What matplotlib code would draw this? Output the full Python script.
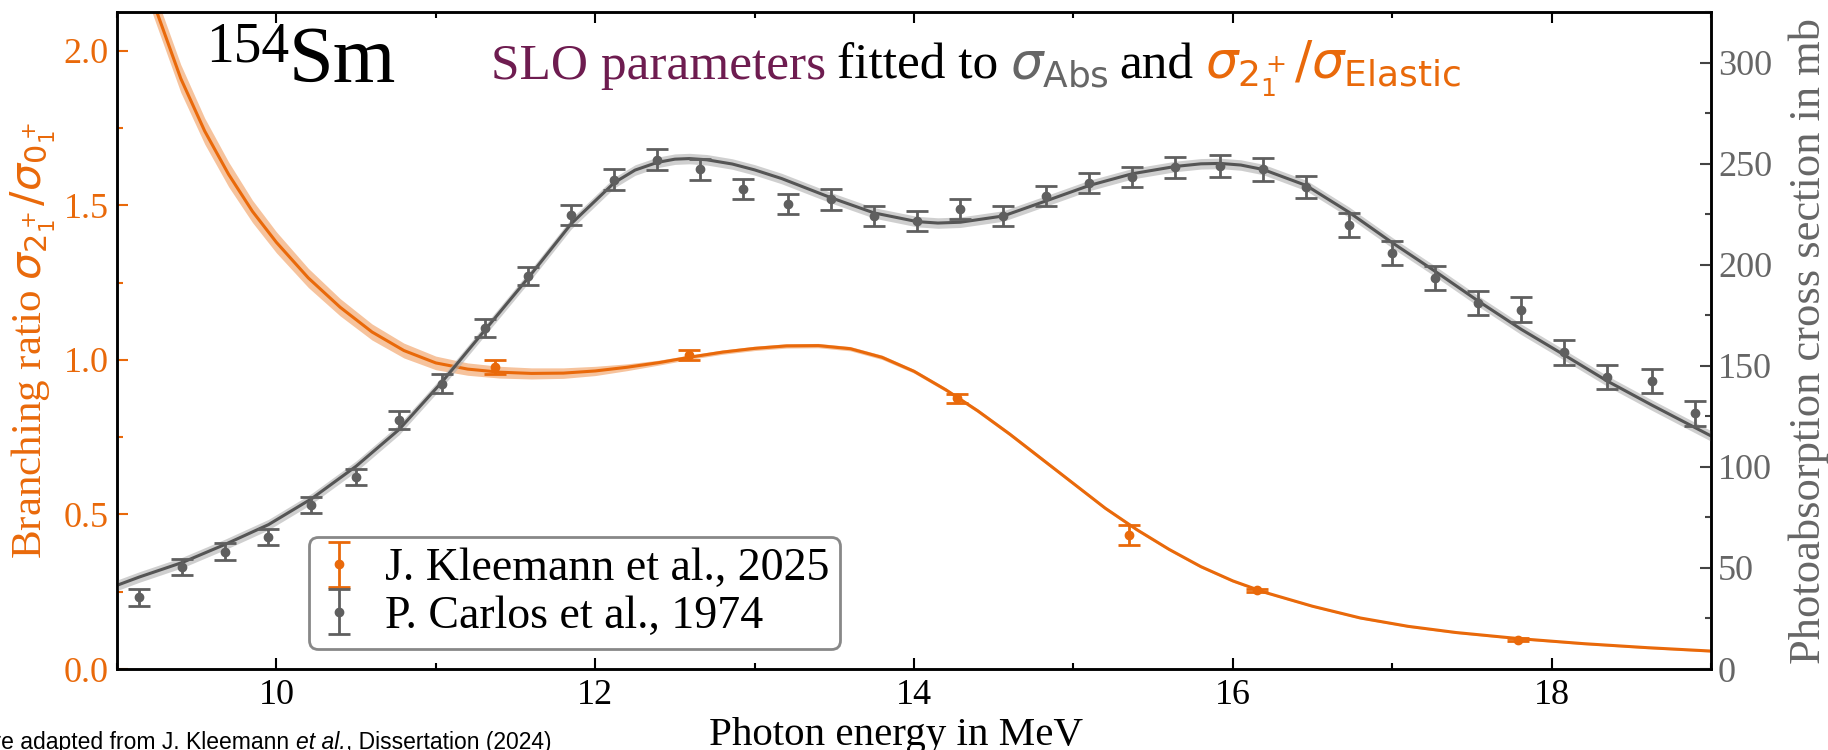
import matplotlib
matplotlib.use("Agg")
import matplotlib.pyplot as plt
from matplotlib.ticker import MultipleLocator
from matplotlib.offsetbox import TextArea, HPacker, AnnotationBbox

plt.rcParams['font.family'] = 'Liberation Serif'
plt.rcParams['mathtext.fontset'] = 'dejavusans'

ORANGE = '#e9690a'
GRAY = '#666666'
PURPLE = '#6e1c50'

# P. Carlos et al., 1974 photoabsorption cross section (mb)
carlos_E = [9.14, 9.41, 9.68, 9.95, 10.22, 10.50, 10.77, 11.04, 11.31, 11.58, 11.85, 12.12, 12.39,
            12.66, 12.93, 13.21, 13.48, 13.75, 14.02, 14.29, 14.56, 14.83, 15.10, 15.37, 15.64,
            15.92, 16.19, 16.46, 16.73, 17.00, 17.27, 17.54, 17.81, 18.08, 18.35, 18.63, 18.90]
carlos_sig = [35.4, 50.6, 58.1, 65.4, 81.2, 94.9, 123.0, 141.2, 168.6, 194.3, 224.6, 242.1, 252.0,
              247.1, 237.4, 229.9, 232.3, 224.1, 221.8, 227.6, 223.9, 233.8, 240.6, 243.2, 248.1,
              249.0, 247.1, 238.5, 219.6, 205.7, 193.3, 181.1, 177.8, 156.6, 144.4, 142.5, 126.4]
carlos_err = [4, 4, 4, 4, 4, 4, 4.5, 4.5, 4.5, 4.5, 5, 5, 5,
              5, 5, 5, 5, 5, 5, 5, 5, 5, 5, 5, 5,
              5.5, 5.5, 5.5, 6, 6, 6, 6, 6, 6, 6, 6, 6]

# J. Kleemann et al., 2025 branching ratio
klee_E = [11.37, 12.59, 14.27, 15.35, 16.15, 17.79]
klee_br = [0.977, 1.016, 0.876, 0.434, 0.254, 0.095]
klee_err = [0.022, 0.015, 0.015, 0.032, 0.006, 0.005]

# SLO fit, absorption cross section
fit_abs_E = [9.0, 9.14, 9.41, 9.68, 9.95, 10.22, 10.50, 10.77, 11.04, 11.31, 11.58, 11.85, 12.12, 12.25,
             12.39, 12.5, 12.59, 12.7, 12.86, 13.0, 13.17, 13.48, 13.75, 14.02, 14.15, 14.29, 14.56, 14.83,
             15.10, 15.37, 15.64, 15.8, 15.92, 16.05, 16.19, 16.46, 16.73, 17.00, 17.27, 17.54, 17.81,
             18.08, 18.35, 18.63, 19.0]
fit_abs = [41.4, 45.5, 52.7, 61.7, 71.4, 84.2, 100.3, 118.5, 142.1, 167.8, 193.5, 220.3, 240.6, 246.8,
           250.6, 252.2, 252.5, 251.9, 249.8, 246.9, 242.6, 233.1, 225.6, 221.3, 220.6, 221.0, 224.1, 231.6,
           239.2, 245.0, 248.6, 249.9, 250.1, 249.3, 247.1, 239.2, 225.9, 210.9, 196.7, 182.0, 168.0,
           155.3, 142.4, 130.5, 115.3]
fit_abs_unc = 2.6

# SLO fit, branching ratio
fit_br_E = [9.15, 9.25, 9.4, 9.55, 9.7, 9.85, 10.0, 10.2, 10.4, 10.6, 10.8, 11.0, 11.2, 11.4, 11.6, 11.8,
            12.0, 12.2, 12.4, 12.6, 12.8, 13.0, 13.2, 13.4, 13.6, 13.8, 14.0, 14.2, 14.4, 14.6, 14.8,
            15.0, 15.2, 15.4, 15.6, 15.8, 16.0, 16.2, 16.5, 16.8, 17.1, 17.4, 17.8, 18.2, 18.6, 19.0]
fit_br = [2.27, 2.125, 1.91, 1.74, 1.60, 1.48, 1.38, 1.265, 1.17, 1.09, 1.03, 0.99, 0.97, 0.96, 0.956, 0.957,
          0.964, 0.976, 0.991, 1.009, 1.025, 1.037, 1.045, 1.046, 1.036, 1.008, 0.963, 0.903, 0.835, 0.760, 0.680,
          0.600, 0.520, 0.450, 0.387, 0.331, 0.285, 0.248, 0.203, 0.165, 0.138, 0.118, 0.098, 0.082, 0.069, 0.058]
fit_br_unc = [0.045, 0.045, 0.045, 0.042, 0.04, 0.036, 0.034, 0.031, 0.028, 0.026, 0.024, 0.022, 0.02, 0.019, 0.018, 0.017,
              0.015, 0.011, 0.008, 0.007, 0.007, 0.007, 0.007, 0.007, 0.007, 0.007, 0.006, 0.006, 0.006, 0.006, 0.006,
              0.005, 0.005, 0.005, 0.004, 0.004, 0.004, 0.003, 0.003, 0.003, 0.003, 0.003, 0.003, 0.003, 0.003, 0.003]

fig = plt.figure(figsize=(18.28, 7.5), dpi=100)
ax = fig.add_axes([117 / 1828, 81 / 750, 1594 / 1828, 657 / 750])
ax2 = ax.twinx()

# branching ratio (left axis)
lo = [v - u for v, u in zip(fit_br, fit_br_unc)]
hi = [v + u for v, u in zip(fit_br, fit_br_unc)]
ax.fill_between(fit_br_E, lo, hi, color=ORANGE, alpha=0.4, lw=0)
ax.plot(fit_br_E, fit_br, color=ORANGE, lw=2.2)
h_klee = ax.errorbar(klee_E, klee_br, yerr=klee_err, fmt='o', color=ORANGE, ms=6,
                     elinewidth=2, capsize=8, capthick=2)

# absorption cross section (right axis)
ax2.fill_between(fit_abs_E, [v - fit_abs_unc for v in fit_abs], [v + fit_abs_unc for v in fit_abs],
                 color='#b0b0b0', alpha=0.6, lw=0)
ax2.plot(fit_abs_E, fit_abs, color='#555555', lw=2.2)
h_carlos = ax2.errorbar(carlos_E, carlos_sig, yerr=carlos_err, fmt='o', color='#5f5f5f', ms=6,
                        elinewidth=2, capsize=8, capthick=2)

ax.set_xlim(9, 19)
ax.set_ylim(0, 2.125)
ax2.set_ylim(0, 325)

ax.xaxis.set_major_locator(MultipleLocator(2))
ax.xaxis.set_minor_locator(MultipleLocator(1))
ax.yaxis.set_major_locator(MultipleLocator(0.5))
ax.yaxis.set_minor_locator(MultipleLocator(0.25))
ax2.yaxis.set_major_locator(MultipleLocator(50))
ax2.yaxis.set_minor_locator(MultipleLocator(25))

ax.tick_params(axis='x', which='both', direction='in', top=True, labelsize=26, pad=7, width=1.5)
ax.tick_params(axis='x', which='major', length=8)
ax.tick_params(axis='x', which='minor', length=4)
ax.tick_params(axis='y', which='both', direction='in', color=ORANGE, labelcolor=ORANGE,
               labelsize=26, pad=6, width=1.5)
ax.tick_params(axis='y', which='major', length=8)
ax.tick_params(axis='y', which='minor', length=4)
ax2.tick_params(axis='y', which='both', direction='in', color='#444444', labelcolor=GRAY,
                labelsize=26, pad=5, width=1.5)
ax2.tick_params(axis='y', which='major', length=8)
ax2.tick_params(axis='y', which='minor', length=4)

for a in (ax, ax2):
    for s in a.spines.values():
        s.set_linewidth(1.8)

ax.set_xlabel("Photon energy in MeV", fontsize=29.5, labelpad=4)
ax.xaxis.label.set_x(0.489)
ax.set_ylabel(r"Branching ratio $\sigma_{2_1^+}/\sigma_{0_1^+}$", fontsize=31, color=ORANGE, labelpad=4)
ax2.set_ylabel("Photoabsorption cross section in mb", fontsize=32, color=GRAY, labelpad=12)

leg = ax2.legend([h_klee, h_carlos], ["J. Kleemann et al., 2025", "P. Carlos et al., 1974"],
                 loc='lower left', bbox_to_anchor=(0.1204, 0.0304), borderaxespad=0,
                 prop={'family': 'Liberation Serif', 'size': 33}, fancybox=True,
                 edgecolor='#888888', framealpha=1, handlelength=0.8, handletextpad=0.6,
                 labelspacing=0.1, borderpad=0.25)
leg.get_frame().set_linewidth(2)

# nucleus label
fig.text(289 / 1828, 689 / 750, "154", fontsize=40, ha='right', va='baseline')
fig.text(289 / 1828, 668.5 / 750, "Sm", fontsize=58, ha='left', va='baseline')

# headline
parts = [("SLO parameters", PURPLE), ("fitted to", 'black'), (r"$\sigma_\mathrm{Abs}$", GRAY),
         ("and", 'black'), (r"$\sigma_{2_1^+}/\sigma_\mathrm{Elastic}$", ORANGE)]
boxes = [TextArea(t, textprops=dict(color=c, fontsize=37, family='Liberation Serif')) for t, c in parts]
head = HPacker(children=boxes, align='baseline', pad=0, sep=8)
fig.add_artist(AnnotationBbox(head, (491, 651), xycoords='figure pixels', box_alignment=(0, 0),
                              frameon=False, pad=0))

# footnote
foot = [("Figure adapted from J. Kleemann ", 'normal'), ("et al.", 'italic'), (", Dissertation (2024)", 'normal')]
fboxes = [TextArea(t, textprops=dict(fontsize=16.5, family='Liberation Sans', style=st, color='black'))
          for t, st in foot]
fpack = HPacker(children=fboxes, align='baseline', pad=0, sep=0)
fig.add_artist(AnnotationBbox(fpack, (551, -4), xycoords='figure pixels', box_alignment=(1, 0),
                              frameon=False, pad=0))

fig.savefig("out.png", dpi=100)
